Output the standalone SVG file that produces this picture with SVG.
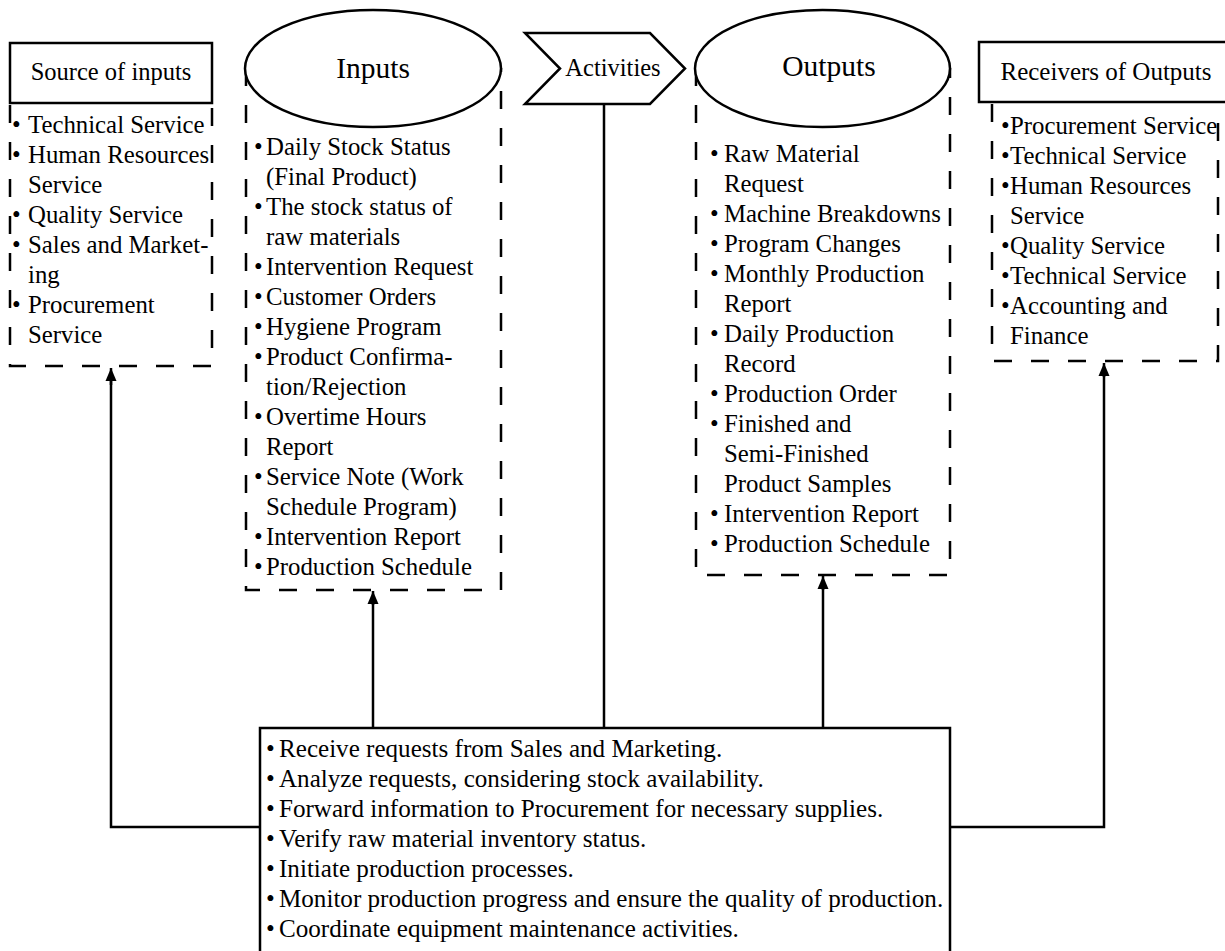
<svg xmlns="http://www.w3.org/2000/svg" width="1225" height="951" viewBox="0 0 1225 951">
<style>
.t{font-family:"Liberation Serif","Times New Roman",serif;font-size:24.8px;fill:#000}
.b{font-family:"Liberation Serif","Times New Roman",serif;font-size:25.1px;fill:#000}
.h{font-family:"Liberation Serif","Times New Roman",serif;fill:#000;text-anchor:middle}
.solid{fill:#fff;stroke:#000;stroke-width:2.5}
.dash{fill:none;stroke:#000;stroke-width:2.5;stroke-dasharray:18 19}
.conn{fill:none;stroke:#000;stroke-width:2.5}
</style>
<defs>
<marker id="arr" markerUnits="userSpaceOnUse" markerWidth="14" markerHeight="12" refX="13" refY="5.5" viewBox="0 0 14 11" orient="auto" overflow="visible">
<path d="M0,0 L13,5.5 L0,11 Z" fill="#000"/>
</marker>
</defs>
<rect width="1225" height="951" fill="#fff"/>

<g id="connectors">
<path class="conn" d="M260,827 H111 V375"/>
<path class="conn" d="M111,385 V368" marker-end="url(#arr)"/>
<path class="conn" d="M373,728 V598"/>
<path class="conn" d="M373,605 V591" marker-end="url(#arr)"/>
<path class="conn" d="M604,104 V728"/>
<path class="conn" d="M823,728 V583"/>
<path class="conn" d="M823,590 V576" marker-end="url(#arr)"/>
<path class="conn" d="M950,827 H1104 V370"/>
<path class="conn" d="M1104,377 V363" marker-end="url(#arr)"/>
</g>

<g id="source-of-inputs">
<rect class="solid" x="10" y="43" width="202" height="60"/>
<text class="h" x="111" y="80" font-size="24.5">Source of inputs</text>
<path class="dash" d="M10,105 V366 H212 V105"/>
<text class="t"><tspan x="12" y="133">•</tspan><tspan x="28" y="133">Technical Service</tspan></text>
<text class="t"><tspan x="12" y="163">•</tspan><tspan x="28" y="163">Human Resources</tspan></text>
<text class="t" x="28" y="193">Service</text>
<text class="t"><tspan x="12" y="223">•</tspan><tspan x="28" y="223">Quality Service</tspan></text>
<text class="t"><tspan x="12" y="253">•</tspan><tspan x="28" y="253">Sales and Market-</tspan></text>
<text class="t" x="28" y="283">ing</text>
<text class="t"><tspan x="12" y="313">•</tspan><tspan x="28" y="313">Procurement</tspan></text>
<text class="t" x="28" y="343">Service</text>
</g>

<g id="inputs">
<path class="dash" d="M246,68 V590 H501 V68"/>
<ellipse class="solid" cx="373" cy="68.5" rx="128" ry="58.5"/>
<text class="h" x="373" y="78" font-size="29.5">Inputs</text>
<text class="t"><tspan x="254" y="155">•</tspan><tspan x="266" y="155">Daily Stock Status</tspan></text>
<text class="t" x="266" y="185">(Final Product)</text>
<text class="t"><tspan x="254" y="215">•</tspan><tspan x="266" y="215">The stock status of</tspan></text>
<text class="t" x="266" y="245">raw materials</text>
<text class="t"><tspan x="254" y="275">•</tspan><tspan x="266" y="275">Intervention Request</tspan></text>
<text class="t"><tspan x="254" y="305">•</tspan><tspan x="266" y="305">Customer Orders</tspan></text>
<text class="t"><tspan x="254" y="335">•</tspan><tspan x="266" y="335">Hygiene Program</tspan></text>
<text class="t"><tspan x="254" y="365">•</tspan><tspan x="266" y="365">Product Confirma-</tspan></text>
<text class="t" x="266" y="395">tion/Rejection</text>
<text class="t"><tspan x="254" y="425">•</tspan><tspan x="266" y="425">Overtime Hours</tspan></text>
<text class="t" x="266" y="455">Report</text>
<text class="t"><tspan x="254" y="485">•</tspan><tspan x="266" y="485">Service Note (Work</tspan></text>
<text class="t" x="266" y="515">Schedule Program)</text>
<text class="t"><tspan x="254" y="545">•</tspan><tspan x="266" y="545">Intervention Report</tspan></text>
<text class="t"><tspan x="254" y="575">•</tspan><tspan x="266" y="575">Production Schedule</tspan></text>
</g>

<g id="activities">
<polygon class="solid" points="525,33 650,33 685,68.5 650,104 525,104 560,68.5"/>
<text class="h" x="613" y="76" font-size="24.5">Activities</text>
</g>

<g id="outputs">
<path class="dash" d="M696,68 V575 H950 V68"/>
<ellipse class="solid" cx="822.5" cy="68.5" rx="127.5" ry="58.5"/>
<text class="h" x="829" y="76" font-size="29.5">Outputs</text>
<text class="t"><tspan x="710" y="162">•</tspan><tspan x="724" y="162">Raw Material</tspan></text>
<text class="t" x="724" y="192">Request</text>
<text class="t"><tspan x="710" y="222">•</tspan><tspan x="724" y="222">Machine Breakdowns</tspan></text>
<text class="t"><tspan x="710" y="252">•</tspan><tspan x="724" y="252">Program Changes</tspan></text>
<text class="t"><tspan x="710" y="282">•</tspan><tspan x="724" y="282">Monthly Production</tspan></text>
<text class="t" x="724" y="312">Report</text>
<text class="t"><tspan x="710" y="342">•</tspan><tspan x="724" y="342">Daily Production</tspan></text>
<text class="t" x="724" y="372">Record</text>
<text class="t"><tspan x="710" y="402">•</tspan><tspan x="724" y="402">Production Order</tspan></text>
<text class="t"><tspan x="710" y="432">•</tspan><tspan x="724" y="432">Finished and</tspan></text>
<text class="t" x="724" y="462">Semi-Finished</text>
<text class="t" x="724" y="492">Product Samples</text>
<text class="t"><tspan x="710" y="522">•</tspan><tspan x="724" y="522">Intervention Report</tspan></text>
<text class="t"><tspan x="710" y="552">•</tspan><tspan x="724" y="552">Production Schedule</tspan></text>
</g>

<g id="receivers-of-outputs">
<rect class="solid" x="979" y="42" width="252" height="60"/>
<text class="h" x="1106" y="80" font-size="25">Receivers of Outputs</text>
<path class="dash" d="M992,104 V361 H1218 V104"/>
<text class="t"><tspan x="1001" y="134">•</tspan><tspan x="1010" y="134">Procurement Service</tspan></text>
<text class="t"><tspan x="1001" y="164">•</tspan><tspan x="1010" y="164">Technical Service</tspan></text>
<text class="t"><tspan x="1001" y="194">•</tspan><tspan x="1010" y="194">Human Resources</tspan></text>
<text class="t" x="1010" y="224">Service</text>
<text class="t"><tspan x="1001" y="254">•</tspan><tspan x="1010" y="254">Quality Service</tspan></text>
<text class="t"><tspan x="1001" y="284">•</tspan><tspan x="1010" y="284">Technical Service</tspan></text>
<text class="t"><tspan x="1001" y="314">•</tspan><tspan x="1010" y="314">Accounting and</tspan></text>
<text class="t" x="1010" y="344">Finance</text>
</g>

<g id="activities-detail">
<rect class="solid" x="260" y="728" width="690" height="240"/>
<text class="b"><tspan x="266" y="757">•</tspan><tspan x="279" y="757">Receive requests from Sales and Marketing.</tspan></text>
<text class="b"><tspan x="266" y="787">•</tspan><tspan x="279" y="787">Analyze requests, considering stock availability.</tspan></text>
<text class="b"><tspan x="266" y="817">•</tspan><tspan x="279" y="817">Forward information to Procurement for necessary supplies.</tspan></text>
<text class="b"><tspan x="266" y="847">•</tspan><tspan x="279" y="847">Verify raw material inventory status.</tspan></text>
<text class="b"><tspan x="266" y="877">•</tspan><tspan x="279" y="877">Initiate production processes.</tspan></text>
<text class="b"><tspan x="266" y="907">•</tspan><tspan x="279" y="907">Monitor production progress and ensure the quality of production.</tspan></text>
<text class="b"><tspan x="266" y="937">•</tspan><tspan x="279" y="937">Coordinate equipment maintenance activities.</tspan></text>
</g>
</svg>
